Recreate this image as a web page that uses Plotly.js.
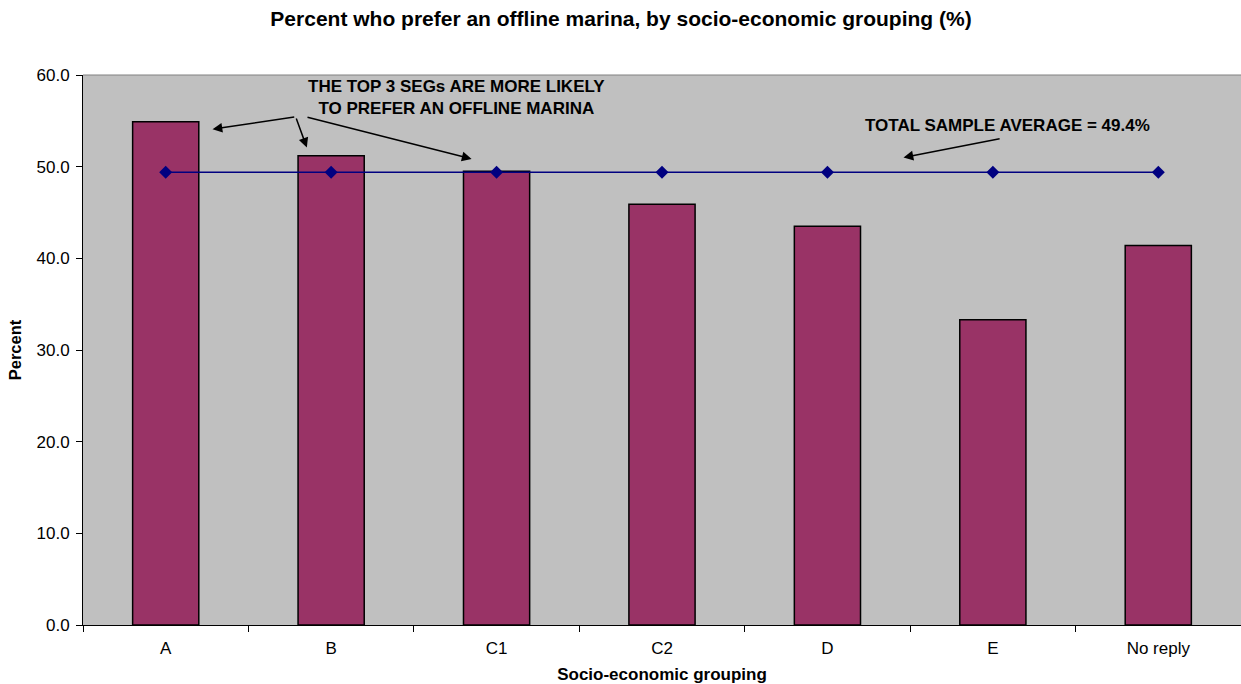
<!DOCTYPE html>
<html>
<head>
<meta charset="utf-8">
<script src="https://cdn.plot.ly/plotly-3.0.1.min.js"></script>
<style>html,body{margin:0;padding:0;background:#fff;}</style>
</head>
<body>
<div id="chart" style="width:1241px;height:684px;"></div>
<script>
const categories = ["A", "B", "C1", "C2", "D", "E", "No reply"];
const percentValues = [54.9, 51.2, 49.5, 45.9, 43.5, 33.3, 41.4];
const sampleAverage = [49.4, 49.4, 49.4, 49.4, 49.4, 49.4, 49.4];
const yTickValues = [0, 10, 20, 30, 40, 50, 60];

const font = "Arial, 'Liberation Sans', sans-serif";

const traces = [
  {
    type: "bar",
    x: categories,
    y: percentValues,
    marker: { color: "#993366", line: { color: "#000000", width: 1.5 } },
    width: 0.4,
    hoverinfo: "x+y",
    showlegend: false
  },
  {
    type: "scatter",
    mode: "lines+markers",
    x: categories,
    y: sampleAverage,
    line: { color: "#000080", width: 1.5 },
    marker: { symbol: "diamond", size: 10, color: "#000080" },
    showlegend: false
  }
];

const arrowStyle = { showarrow: true, arrowhead: 2, arrowsize: 1.3, arrowwidth: 1.5, arrowcolor: "#000000", axref: "x", ayref: "y", xref: "x", yref: "y", text: "" };

const layout = {
  width: 1241,
  height: 684,
  margin: { l: 83, r: 0, t: 75, b: 59 },
  paper_bgcolor: "#ffffff",
  plot_bgcolor: "#c0c0c0",
  title: {
    text: "<b>Percent who prefer an offline marina, by socio-economic grouping (%)</b>",
    font: { family: font, size: 21, color: "#000000" },
    x: 621 / 1241, xanchor: "center",
    y: 1 - 19 / 684, yanchor: "middle", yref: "container"
  },
  xaxis: {
    type: "category",
    range: [-0.5, 6.5],
    tickson: "boundaries",
    ticks: "outside",
    ticklen: 6,
    tickcolor: "#000000",
    ticklabelstandoff: 8,
    showline: true,
    linecolor: "#000000",
    linewidth: 1,
    showgrid: false,
    zeroline: false,
    tickfont: { family: font, size: 17, color: "#000000" },
    title: { text: "<b>Socio-economic grouping</b>", font: { family: font, size: 17, color: "#000000" }, standoff: 11 }
  },
  yaxis: {
    range: [0, 60],
    tickvals: yTickValues,
    tickformat: ".1f",
    ticks: "outside",
    ticklen: 6,
    tickcolor: "#000000",
    ticklabelstandoff: 3,
    showline: true,
    linecolor: "#000000",
    linewidth: 1,
    showgrid: false,
    zeroline: false,
    tickfont: { family: font, size: 17, color: "#000000" },
    title: { text: "<b>Percent</b>", font: { family: font, size: 16.5, color: "#000000" }, standoff: 10 }
  },
  shapes: [
    { type: "line", xref: "paper", yref: "paper", x0: 0, x1: 1, y0: 1, y1: 1, line: { color: "#808080", width: 1 } }
  ],
  annotations: [
    {
      xref: "x", yref: "y", x: 1.76, y: 57.55,
      text: "<b>THE TOP 3 SEGs ARE MORE LIKELY<br>TO PREFER AN OFFLINE MARINA</b>",
      showarrow: false, font: { family: font, size: 17, color: "#000000" }, align: "center"
    },
    {
      xref: "x", yref: "y", x: 5.09, y: 54.45,
      text: "<b>TOTAL SAMPLE AVERAGE = 49.4%</b>",
      showarrow: false, font: { family: font, size: 17, color: "#000000" }, align: "center"
    },
    Object.assign({}, arrowStyle, { x: 0.283, y: 54.09, ax: 0.786, ay: 55.43 }),
    Object.assign({}, arrowStyle, { x: 0.853, y: 52.09, ax: 0.786, ay: 55.43 }),
    Object.assign({}, arrowStyle, { x: 1.849, y: 50.85, ax: 0.848, ay: 55.43 }),
    Object.assign({}, arrowStyle, { x: 4.46, y: 51.0, ax: 5.05, ay: 53.08 })
  ]
};

Plotly.newPlot("chart", traces, layout, { displayModeBar: false, staticPlot: true });
</script>
</body>
</html>
